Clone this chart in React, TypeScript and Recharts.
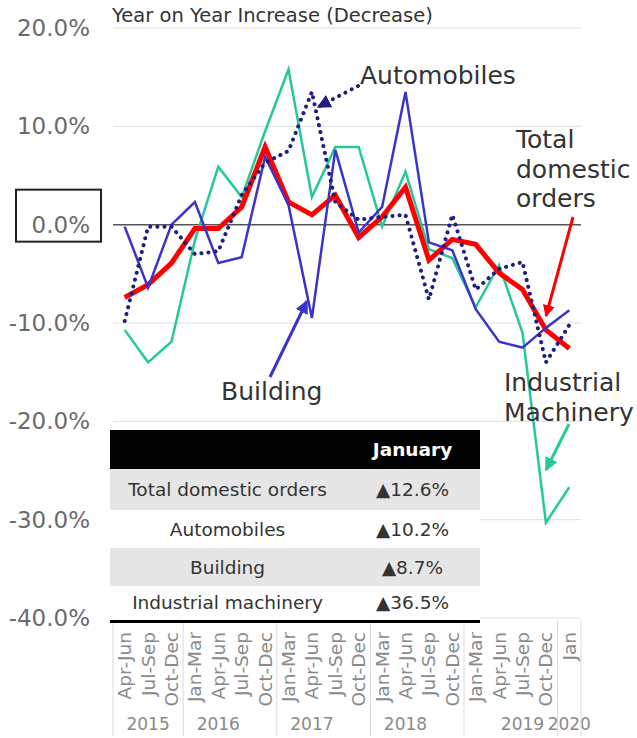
import React from 'react';
import { LineChart, Line, XAxis, YAxis, CartesianGrid, ReferenceLine } from 'recharts';

// quarters from Apr-Jun 2015 to Jan 2020
const periods = ['Apr-Jun', 'Jul-Sep', 'Oct-Dec', 'Jan-Mar', 'Apr-Jun', 'Jul-Sep', 'Oct-Dec', 'Jan-Mar', 'Apr-Jun', 'Jul-Sep', 'Oct-Dec', 'Jan-Mar', 'Apr-Jun', 'Jul-Sep', 'Oct-Dec', 'Jan-Mar', 'Apr-Jun', 'Jul-Sep', 'Oct-Dec', 'Jan'];
const years = ['', '2015', '', '', '2016', '', '', '', '2017', '', '', '', '2018', '', '', '', '', '2019', '', '2020'];
const yearStarts = [0, 3, 7, 11, 15, 19];

const total = [-7.4, -6.1, -3.9, -0.4, -0.4, 1.8, 7.9, 2.3, 1.0, 3.0, -1.3, 0.8, 3.8, -3.6, -1.5, -2.0, -4.9, -6.6, -10.7, -12.6];
const automobiles = [-9.8, -0.2, -0.2, -3.0, -2.7, 3.0, 6.3, 7.5, 13.5, 2.3, 0.5, 0.8, 1.0, -7.6, 1.0, -6.6, -4.5, -3.8, -14.0, -10.2];
const building = [-0.2, -6.4, 0.0, 2.3, -3.9, -3.3, 6.9, 2.0, -9.5, 7.6, -0.8, 1.8, 13.5, -1.8, -2.6, -8.6, -11.9, -12.5, -10.5, -8.7];
const industrial = [-10.7, -14.0, -11.9, -1.6, 5.9, 2.8, 9.5, 15.8, 2.8, 7.9, 7.9, -0.2, 5.4, -2.5, -3.4, -8.4, -4.1, -11.0, -30.3, -26.7];

const yTicks = [20, 10, 0, -10, -20, -30, -40];

const tableRows = [
    ['Total domestic orders', '▲12.6%'],
    ['Automobiles', '▲10.2%'],
    ['Building', '▲8.7%'],
    ['Industrial machinery', '▲36.5%'],
];

const data = periods.map((p, i) => ({
    key: i + '-' + p,
    total: total[i],
    automobiles: automobiles[i],
    building: building[i],
    industrial: industrial[i],
}));

const font = '"DejaVu Sans", Verdana, sans-serif';

const red = '#ff0000';
const navy = '#1e1e82';
const blue = '#3a34c8';
const teal = '#25c89b';

const YTick = (props: any) => {
    const { y, payload } = props;
    return (
        <g>
            {payload.value === 0 && (
                <rect x={16} y={y - 35} width={85} height={52} fill="none" stroke="#222" strokeWidth={2} />
            )}
            <text x={90} y={y} textAnchor="end" dominantBaseline="central" fontSize={23} fill="#6b6b6b" fontFamily={font}>
                {payload.value.toFixed(1)}%
            </text>
        </g>
    );
};

const XTick = (props: any) => {
    const { x, y, payload } = props;
    const i = payload.index;
    const half = 11.7;
    return (
        <g>
            <text
                transform={`translate(${x},${y + 14}) rotate(-90)`}
                textAnchor="end"
                dominantBaseline="central"
                fontSize={18.5}
                fill="#8a8a8a"
                fontFamily={font}
            >
                {periods[i]}
            </text>
            {years[i] && (
                <text x={x} y={y + 106} textAnchor="middle" dominantBaseline="central" fontSize={17} fill="#8a8a8a" fontFamily={font}>
                    {years[i]}
                </text>
            )}
            {yearStarts.includes(i) && (
                <line x1={x - half} x2={x - half} y1={y + 3} y2={y + 118} stroke="#dcdcdc" />
            )}
            {i === periods.length - 1 && (
                <line x1={x + half} x2={x + half} y1={y + 3} y2={y + 118} stroke="#dcdcdc" />
            )}
        </g>
    );
};

const Notes = () => (
    <svg width={637} height={738} style={{ position: 'absolute', left: 0, top: 0, pointerEvents: 'none' }}>
        <defs>
            <marker id="hRed" viewBox="0 0 10 10" refX="9" refY="5" markerWidth="4" markerHeight="4" orient="auto">
                <path d="M0,0 L10,5 L0,10 z" fill={red} />
            </marker>
            <marker id="hBlue" viewBox="0 0 10 10" refX="9" refY="5" markerWidth="4.5" markerHeight="4.5" orient="auto">
                <path d="M0,0 L10,5 L0,10 z" fill={blue} />
            </marker>
            <marker id="hNavy" viewBox="0 0 10 10" refX="9" refY="5" markerWidth="3.5" markerHeight="3.5" orient="auto">
                <path d="M0,0 L10,5 L0,10 z" fill={navy} />
            </marker>
            <marker id="hTeal" viewBox="0 0 10 10" refX="9" refY="5" markerWidth="4.5" markerHeight="4.5" orient="auto">
                <path d="M0,0 L10,5 L0,10 z" fill={teal} />
            </marker>
        </defs>
        <text x={112} y={22} fontSize={19.5} fill="#333" fontFamily={font}>Year on Year Increase (Decrease)</text>

        <text x={360} y={84} fontSize={25} fill="#333" fontFamily={font}>Automobiles</text>
        <line x1={358} y1={86} x2={318} y2={107} stroke={navy} strokeWidth={4} strokeDasharray="0.1 7" strokeLinecap="round" markerEnd="url(#hNavy)" />

        <text x={516} y={148} fontSize={25} fill="#333" fontFamily={font}>Total</text>
        <text x={516} y={178} fontSize={25} fill="#333" fontFamily={font}>domestic</text>
        <text x={516} y={207} fontSize={25} fill="#333" fontFamily={font}>orders</text>
        <line x1={573} y1={217} x2={546} y2={316} stroke={red} strokeWidth={3} markerEnd="url(#hRed)" />

        <text x={221} y={400} fontSize={25} fill="#333" fontFamily={font}>Building</text>
        <line x1={270} y1={377} x2={307} y2={301} stroke={blue} strokeWidth={3} markerEnd="url(#hBlue)" />

        <text x={504} y={391} fontSize={25} fill="#333" fontFamily={font}>Industrial</text>
        <text x={504} y={421} fontSize={25} fill="#333" fontFamily={font}>Machinery</text>
        <line x1={569} y1={424} x2={546} y2={470} stroke={teal} strokeWidth={3} markerEnd="url(#hTeal)" />
    </svg>
);

const cell: React.CSSProperties = { textAlign: 'center', padding: 0, fontFamily: font, fontSize: 18.5, color: '#333' };

const SummaryTable = () => (
    <div style={{ position: 'absolute', left: 110, top: 430, width: 370 }}>
        <table style={{ borderCollapse: 'collapse', width: 370, background: '#fff', borderBottom: '3px solid #000' }}>
            <tbody>
                <tr style={{ background: '#000', height: 39 }}>
                    <td style={{ ...cell, width: 235 }}></td>
                    <td style={{ ...cell, color: '#fff', fontWeight: 'bold' }}>January</td>
                </tr>
                {tableRows.map((r, i) => (
                    <tr key={r[0]} style={{ background: i % 2 === 0 ? '#e6e6e6' : '#fff', height: i === 0 ? 41 : i === 3 ? 35 : 38 }}>
                        <td style={cell}>{r[0]}</td>
                        <td style={cell}>{r[1]}</td>
                    </tr>
                ))}
            </tbody>
        </table>
    </div>
);

export default function App() {
    return (
        <div style={{ position: 'absolute', left: 0, top: 0, width: 637, height: 738, background: '#fff' }}>
            <LineChart width={637} height={738} data={data} margin={{ top: 28, right: 56, left: 10, bottom: 0 }}>
                <CartesianGrid vertical={false} stroke="#e0e0e0" />
                <XAxis dataKey="key" height={120} interval={0} tickSize={0} tickMargin={0} axisLine={false} padding={{ left: 11.7, right: 11.7 }} tick={<XTick />} />
                <YAxis width={103} domain={[-40, 20]} ticks={yTicks} axisLine={false} tickLine={false} tick={<YTick />} />
                <ReferenceLine y={0} stroke="#555" strokeWidth={1.5} />
                <Line dataKey="industrial" stroke={teal} strokeWidth={2.5} dot={false} isAnimationActive={false} />
                <Line dataKey="total" stroke={red} strokeWidth={5} dot={false} isAnimationActive={false} />
                <Line dataKey="building" stroke={blue} strokeWidth={2.5} dot={false} isAnimationActive={false} />
                <Line dataKey="automobiles" stroke={navy} strokeWidth={4} strokeDasharray="0.1 7" strokeLinecap="round" dot={false} isAnimationActive={false} />
            </LineChart>
            <SummaryTable />
            <Notes />
        </div>
    );
}
